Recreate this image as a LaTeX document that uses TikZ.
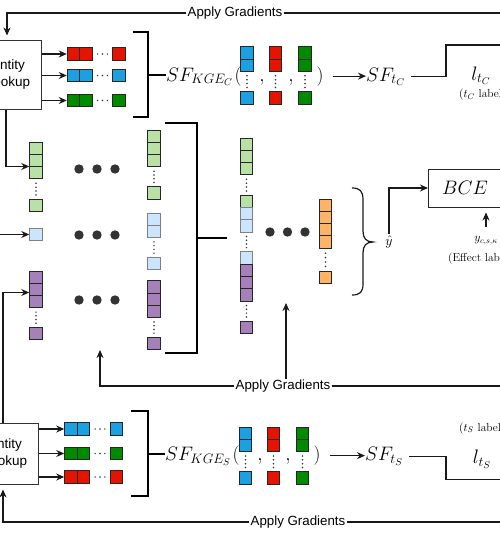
\RequirePackage{fix-cm}
\documentclass[tikz,border=0pt]{standalone}
\usepackage{fontspec}
\newfontfamily\sansf{Liberation Sans}
\usetikzlibrary{arrows.meta}
\definecolor{cred}{HTML}{E51400}
\definecolor{cblue}{HTML}{1BA1E2}
\definecolor{cgreen}{HTML}{008A00}
\definecolor{lgreen}{HTML}{B9E0A5}
\definecolor{lblue}{HTML}{CCE5FF}
\definecolor{cpurple}{HTML}{A680B8}
\definecolor{corange}{HTML}{FFB366}
\definecolor{dotc}{HTML}{333333}
\tikzset{
  sq/.style={rectangle, draw=black!85, fill=#1, line width=1pt, minimum width=12.5pt, minimum height=12.3pt, inner sep=0pt},
  sql/.style={sq=lblue, draw=black!50},
  arr/.style={line width=1.1pt, draw=black!90, -{Stealth[length=8pt,width=7pt]}},
  ln/.style={line width=1.1pt, draw=black!90},
  brk/.style={line width=2pt},
  smalldot/.style={circle, fill=black!80, minimum size=1.7pt, inner sep=0pt},
  bigdot/.style={circle, fill=dotc, minimum size=9.4pt, inner sep=0pt},
  ent/.style={rectangle, draw=black!80, line width=1pt, minimum width=66pt, align=center, font=\sansf\fontsize{13.5}{16.5}\selectfont},
  grad/.style={fill=white, inner sep=1pt, font=\sansf\fontsize{13.3}{15}\selectfont},
  mth/.style={inner sep=0pt, font=\fontsize{19.5}{22}\selectfont},
  small/.style={inner sep=0pt, font=\fontsize{11.5}{13}\selectfont},
}
\newcommand{\vdts}[2]{\path (#1.south) -- (#2.north) node[smalldot,pos=0.2]{} node[smalldot,pos=0.4]{} node[smalldot,pos=0.6]{} node[smalldot,pos=0.8]{};}
\newcommand{\hdts}[2]{\path (#1.east) -- (#2.west) node[smalldot,pos=0.25]{} node[smalldot,pos=0.5]{} node[smalldot,pos=0.75]{};}
\begin{document}
\begin{tikzpicture}[x=1pt,y=-1pt]
\useasboundingbox (0,0) rectangle (500,536);
\clip (0,0) rectangle (500,536);

% ---------- top section ----------
\node[grad] (g1) at (235,13) {Apply Gradients};
\node[ent, minimum height=69pt] (ent1) at (8,74.5) {Entity\\Lookup};
\draw[ln] (g1.east) -- (510,13);
\draw[arr, shorten >=4pt] (g1.west) -| ([xshift=-1pt]ent1.north);

\foreach \nm/\c/\y in {ra/cred/54, rb/cblue/75.5, rc/cgreen/100.5} {
  \node[sq=\c] (\nm1) at (73.5,\y) {};
  \node[sq=\c] (\nm2) at (86,\y) {};
  \node[sq=\c] (\nm3) at (119,\y) {};
  \hdts{\nm2}{\nm3}
  \draw[arr] (ent1.east |- \nm1.west) -- (\nm1.west);
}
\draw[brk] (133,32) -- (148,32) -- (148,117) -- (133,117);
\coordinate (b1m) at (148,74.5);
\node[mth, anchor=base west] (sfc) at (166,81) {$SF_{KGE_C}$};
\draw[brk] (b1m) -- (sfc.west |- b1m);
\node[mth, anchor=base] (par1l) at (238,81) {$($};
\node[mth, anchor=base] (cm1) at (262,81) {$,$};
\node[mth, anchor=base] (cm2) at (291,81) {$,$};
\node[mth, anchor=base] (par1r) at (320,81) {$)$};
\foreach \nm/\c/\x in {ka/cblue/247, kb/cred/275.5, kc/cgreen/305} {
  \node[sq=\c] (\nm1) at (\x,53) {};
  \node[sq=\c] (\nm2) at (\x,65.3) {};
  \node[sq=\c] (\nm3) at (\x,98) {};
  \vdts{\nm2}{\nm3}
}
\node[mth, anchor=base west] (sftc) at (366,81) {$SF_{t_C}$};
\draw[arr, shorten <=9pt] (par1r.east) -- (sftc.west |- par1r.east);
\coordinate (lc) at (446,45);
\draw[ln] ([xshift=6pt]sftc.east) -| (lc) -- (510,45);
\node[mth, anchor=base] (ltc) at (481,80) {$l_{t_C}$};
\node[small, anchor=base west] (labc) at (459,97.5) {($t_C$ labels)};

% ---------- middle section ----------
\node[ent, minimum height=61pt] (ent2) at (5,453.5) {Entity\\Lookup};

\foreach \y [count=\i] in {148.2,160.5,172.8,205.5} \node[sq=lgreen] (lg\i) at (36,\y) {};
\vdts{lg3}{lg4}
\node[sql] (lb1) at (36,234.5) {};
\foreach \y [count=\i] in {277.2,289.5,301.8,333.5} \node[sq=cpurple] (lp\i) at (36,\y) {};
\vdts{lp3}{lp4}

\draw[arr] ([xshift=-2pt]ent1.south) |- ([yshift=-6pt]lg2.west);
\coordinate (lbin) at (-2,234.5);
\draw[arr] (lbin) -- (lb1.west);
\draw[arr] ([xshift=-2pt]ent2.north) |- ([yshift=-3pt]lp2.west);

\foreach \y [count=\j] in {169,235,300}
  \foreach \x [count=\i] in {79,97,115}
    \node[bigdot] (bd\j\i) at (\x,\y) {};

\foreach \y [count=\i] in {136.2,148.5,160.8,193} \node[sq=lgreen] (mg\i) at (154,\y) {};
\vdts{mg3}{mg4}
\foreach \y [count=\i] in {219.2,231.5,263.5} \node[sql] (mb\i) at (154,\y) {};
\vdts{mb2}{mb3}
\foreach \y [count=\i] in {287,299.3,311.6,343.5} \node[sq=cpurple] (mp\i) at (154,\y) {};
\vdts{mp3}{mp4}

\draw[brk] (165,123) -- (197,123) -- (197,353) -- (165,353);
\coordinate (b2m) at (197,238);
\coordinate (b2e) at (227,238);
\draw[brk] (b2m) -- (b2e);

\foreach \y [count=\i] in {144.2,156.5,168.8,201.5} \node[sq=lgreen] (cg\i) at (246.5,\y) {};
\foreach \y [count=\i] in {213.8,226.1,258} \node[sql] (cb\i) at (246.5,\y) {};
\foreach \y [count=\i] in {270.3,282.6,294.9,327.5} \node[sq=cpurple] (cp\i) at (246.5,\y) {};
\vdts{cg3}{cg4}
\vdts{cb2}{cb3}
\vdts{cp3}{cp4}

\foreach \x [count=\i] in {270,287.5,305} \node[bigdot] (cd\i) at (\x,232) {};

\foreach \y [count=\i] in {205.2,217.5,229.8,242.1,277.5} \node[sq=corange] (or\i) at (325.5,\y) {};
\vdts{or4}{or5}

\draw[ln, line width=1.2pt] (352,188) .. controls (360,188) and (363,191) .. (363,200) -- (363,231) .. controls (363,238) and (366,242) .. (373,242) .. controls (366,242) and (363,246) .. (363,253) -- (363,284) .. controls (363,292) and (360,295) .. (352,295);

\node[font=\fontsize{14}{16}\selectfont, inner sep=2pt] (yhat) at (389,242) {$\hat{y}$};
\node[draw=black!85, line width=1pt, minimum width=110pt, minimum height=38pt, anchor=west, inner sep=0pt] (bce) at (428,188) {};
\node[mth] (bcet) at (465,188) {$BCE$};
\draw[arr] (yhat.north) |- (bce.west);
\node[font=\fontsize{12}{14}\selectfont, inner sep=1pt] (ylab) at (486,241) {$y_{c,s,\kappa}$};
\draw[arr, shorten >=5pt] ([yshift=9pt]ylab.north) -- (ylab.north |- bce.south);
\node[small, anchor=base west] (labe) at (448,261) {(Effect labels)};

\node[grad] (g2) at (283,386) {Apply Gradients};
\draw[ln] (g2.east) -- (510,386);
\coordinate (g2l) at (100,350);
\draw[arr] (g2.west) -| (g2l);
\coordinate (g2u) at (286,303);
\draw[arr] (g2.north -| g2u) -- (g2u);

% ---------- bottom section ----------
\foreach \nm/\c/\y in {sa/cblue/429, sb/cgreen/453.5, sc/cred/477} {
  \node[sq=\c] (\nm1) at (71,\y) {};
  \node[sq=\c] (\nm2) at (83.5,\y) {};
  \node[sq=\c] (\nm3) at (116.5,\y) {};
  \hdts{\nm2}{\nm3}
  \draw[arr] (ent2.east |- \nm1.west) -- (\nm1.west);
}
\draw[brk] (131,411) -- (148,411) -- (148,496) -- (131,496);
\coordinate (b3m) at (148,453.5);
\node[mth, anchor=base west] (sfs) at (165,460.5) {$SF_{KGE_S}$};
\draw[brk] (b3m) -- (sfs.west |- b3m);
\node[mth, anchor=base] (par2l) at (236,460.5) {$($};
\node[mth, anchor=base] (cm3) at (260,460.5) {$,$};
\node[mth, anchor=base] (cm4) at (288,460.5) {$,$};
\node[mth, anchor=base] (par2r) at (317,460.5) {$)$};
\foreach \nm/\c/\x in {ja/cblue/245.5, jb/cred/273.5, jc/cgreen/302.5} {
  \node[sq=\c] (\nm1) at (\x,433.2) {};
  \node[sq=\c] (\nm2) at (\x,445.5) {};
  \node[sq=\c] (\nm3) at (\x,478) {};
  \vdts{\nm2}{\nm3}
}
\node[mth, anchor=base west] (sfts) at (365,460.5) {$SF_{t_S}$};
\draw[arr, shorten <=9pt] (par2r.east) -- (sfts.west |- par2r.east);
\coordinate (ls) at (446,479.3);
\draw[ln] ([xshift=6pt]sfts.east) -| (ls) -- (510,479.3);
\node[mth, anchor=base] (lts) at (482,463.5) {$l_{t_S}$};
\node[small, anchor=base west] (labs) at (459,431) {($t_S$ labels)};

\node[grad] (g3) at (298,522) {Apply Gradients};
\draw[ln] (g3.east) -- (510,522);
\draw[arr, shorten >=5pt] (g3.west) -| ([xshift=-2pt]ent2.south);
\end{tikzpicture}
\end{document}
